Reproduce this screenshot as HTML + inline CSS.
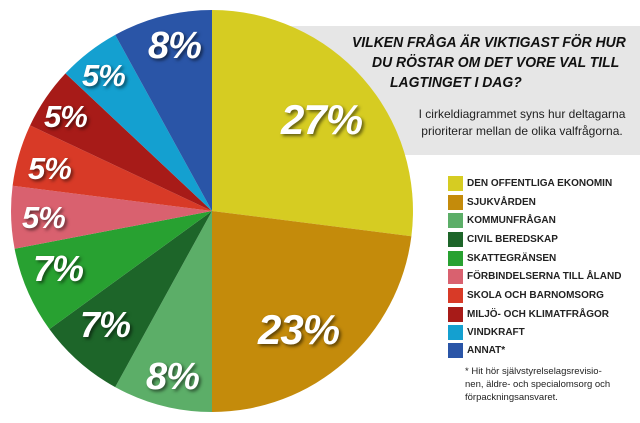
<!DOCTYPE html>
<html><head><meta charset="utf-8"><style>
body{margin:0;width:640px;height:423px;background:#fff;position:relative;overflow:hidden;font-family:"Liberation Sans",sans-serif}
.box{position:absolute;left:212px;top:26px;width:428px;height:129px;background:#e6e6e6}
svg{position:absolute;left:0;top:0}
.t{position:absolute;font-weight:bold;font-style:italic;color:#111;font-size:15px;line-height:20px;white-space:nowrap;transform:scaleX(0.93);transform-origin:0 0}
.sub{position:absolute;font-size:12px;color:#222;line-height:17px;text-align:center;left:392px;width:260px}
.lbl{position:absolute;color:#fff;font-weight:bold;font-style:italic;text-shadow:2px 2px 3px rgba(0,0,0,.55);letter-spacing:-1px}
.lg{position:absolute;left:448px;font-size:10px;font-weight:bold;color:#222;line-height:15px}
.lg i{position:absolute;left:0;top:0;width:15px;height:15px}
.lg span{position:absolute;left:19px;top:0;white-space:nowrap}
.fn{position:absolute;left:465px;top:365px;font-size:9.5px;line-height:13px;color:#222}
</style></head><body>
<div class="box"></div>
<svg width="640" height="423">
<path d="M212 211 L212 10 A201 201 0 0 1 411.4 236.2Z" fill="#d6cc22"/>
<path d="M212 211 L411.4 236.2 A201 201 0 0 1 212 412Z" fill="#c48b0b"/>
<path d="M212 211 L212 412 A201 201 0 0 1 115.2 387.1Z" fill="#5cae68"/>
<path d="M212 211 L115.2 387.1 A201 201 0 0 1 49.4 329.1Z" fill="#1d6529"/>
<path d="M212 211 L49.4 329.1 A201 201 0 0 1 14.6 248.7Z" fill="#28a131"/>
<path d="M212 211 L14.6 248.7 A201 201 0 0 1 12.6 185.8Z" fill="#d9616f"/>
<path d="M212 211 L12.6 185.8 A201 201 0 0 1 30.1 125.4Z" fill="#d83a27"/>
<path d="M212 211 L30.1 125.4 A201 201 0 0 1 65.5 73.4Z" fill="#a71b18"/>
<path d="M212 211 L65.5 73.4 A201 201 0 0 1 115.2 34.9Z" fill="#14a0d0"/>
<path d="M212 211 L115.2 34.9 A201 201 0 0 1 212 10Z" fill="#2a55a7"/>
</svg>
<div class="t" style="left:352px;top:33px">VILKEN FRÅGA ÄR VIKTIGAST FÖR HUR</div>
<div class="t" style="left:372px;top:53px">DU RÖSTAR OM DET VORE VAL TILL</div>
<div class="t" style="left:390px;top:73px">LAGTINGET I DAG?</div>
<div class="sub" style="top:106px">I cirkeldiagrammet syns hur deltagarna<br>prioriterar mellan de olika valfrågorna.</div>
<div class="lbl" style="left:281px;top:96px;font-size:42px">27%</div>
<div class="lbl" style="left:258px;top:306px;font-size:42px">23%</div>
<div class="lbl" style="left:146px;top:356px;font-size:38px">8%</div>
<div class="lbl" style="left:148px;top:25px;font-size:38px">8%</div>
<div class="lbl" style="left:80px;top:304px;font-size:36px">7%</div>
<div class="lbl" style="left:33px;top:248px;font-size:36px">7%</div>
<div class="lbl" style="left:22px;top:200px;font-size:31px">5%</div>
<div class="lbl" style="left:28px;top:151px;font-size:31px">5%</div>
<div class="lbl" style="left:44px;top:99px;font-size:31px">5%</div>
<div class="lbl" style="left:82px;top:58px;font-size:31px">5%</div>
<div class="lg" style="top:176px"><i style="background:#d6cc22"></i><span>DEN OFFENTLIGA EKONOMIN</span></div>
<div class="lg" style="top:195px"><i style="background:#c48b0b"></i><span>SJUKVÅRDEN</span></div>
<div class="lg" style="top:213px"><i style="background:#5cae68"></i><span>KOMMUNFRÅGAN</span></div>
<div class="lg" style="top:232px"><i style="background:#1d6529"></i><span>CIVIL BEREDSKAP</span></div>
<div class="lg" style="top:251px"><i style="background:#28a131"></i><span>SKATTEGRÄNSEN</span></div>
<div class="lg" style="top:269px"><i style="background:#d9616f"></i><span>FÖRBINDELSERNA TILL ÅLAND</span></div>
<div class="lg" style="top:288px"><i style="background:#d83a27"></i><span>SKOLA OCH BARNOMSORG</span></div>
<div class="lg" style="top:307px"><i style="background:#a71b18"></i><span>MILJÖ- OCH KLIMATFRÅGOR</span></div>
<div class="lg" style="top:325px"><i style="background:#14a0d0"></i><span>VINDKRAFT</span></div>
<div class="lg" style="top:343px"><i style="background:#2a55a7"></i><span>ANNAT*</span></div>
<div class="fn">* Hit hör självstyrelselagsrevisio-<br>nen, äldre- och specialomsorg och<br>förpackningsansvaret.</div>
</body></html>
